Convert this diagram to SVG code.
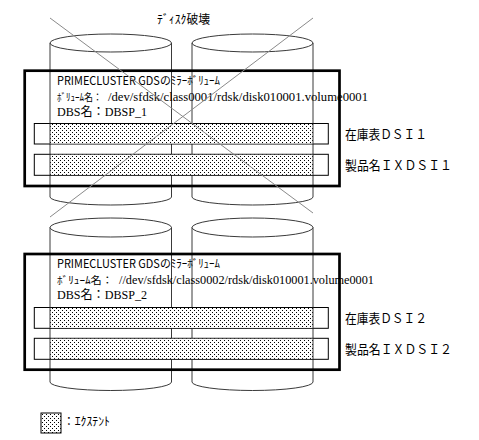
<svg xmlns="http://www.w3.org/2000/svg" width="479" height="440" viewBox="0 0 479 440">
<style>
.cyl{fill:none;stroke:#3a3a3a;stroke-width:1}
.box{fill:none;stroke:#000;stroke-width:2.7}
.bar{fill:#fff;stroke:#000;stroke-width:1}
.dot{fill:url(#dots);stroke:none}
.edge{stroke:#3a3a3a;stroke-width:1}
.cross{stroke:#8a8a8a;stroke-width:1;fill:none}
.g{font-family:"Noto Sans CJK JP","Noto Sans",sans-serif;font-size:12px;fill:#000}
.g1{font-family:"Noto Sans CJK JP","Noto Sans",sans-serif;font-size:11.5px;fill:#000}
.g2{font-family:"Noto Sans CJK JP","Noto Sans",sans-serif;font-size:10.5px;fill:#000}
.s{font-family:"Liberation Serif","Noto Sans CJK JP",serif;font-size:12.5px;fill:#000}
.p{font-family:"Liberation Serif","Noto Sans CJK JP",serif;font-size:12.5px;fill:#000}
.lbl{font-family:"Noto Sans CJK JP","Noto Sans",sans-serif;font-size:13px;fill:#000}
</style>
<defs>
<pattern id="dots" x="0" y="0" width="4" height="4" patternUnits="userSpaceOnUse">
<rect width="4" height="4" fill="#fff"/>
<rect x="0" y="0" width="1" height="1" fill="#000"/>
<rect x="2" y="2" width="1" height="1" fill="#000"/>
</pattern>
</defs>
<rect width="479" height="440" fill="#fff"/>

<text class="g" x="157" y="24" textLength="53" lengthAdjust="spacingAndGlyphs">ﾃﾞｨｽｸ破壊</text>

<g id="disks-top">
<path class="cyl" d="M50,43 A60.75,9 0 1,1 171.5,43 A60.75,9 0 1,1 50,43 Z M50,43 V197 A60.75,8 0 0,0 171.5,197 V43"/>
<path class="cyl" d="M192,43 A60.5,9 0 1,1 313,43 A60.5,9 0 1,1 192,43 Z M192,43 V197 A60.5,8 0 0,0 313,197 V43"/>
</g>
<g id="disks-bottom">
<path class="cyl" d="M50,227.5 A60.75,9.5 0 1,1 171.5,227.5 A60.75,9.5 0 1,1 50,227.5 Z M50,227.5 V382 A60.75,8.5 0 0,0 171.5,382 V227.5"/>
<path class="cyl" d="M192,227.5 A60.5,9.5 0 1,1 313,227.5 A60.5,9.5 0 1,1 192,227.5 Z M192,227.5 V382 A60.5,8.5 0 0,0 313,382 V227.5"/>
</g>

<g id="volume1">
<rect class="box" x="24.7" y="70.7" width="314.8" height="115.3"/>
<text class="g1" x="57" y="85" textLength="163" lengthAdjust="spacingAndGlyphs">PRIMECLUSTER GDSのﾐﾗｰﾎﾞﾘｭｰﾑ</text>
<text class="g2" x="57" y="100.5" textLength="45" lengthAdjust="spacingAndGlyphs">ﾎﾞﾘｭｰﾑ名：</text>
<text class="p" x="108" y="100.5" textLength="260" lengthAdjust="spacingAndGlyphs">/dev/sfdsk/class0001/rdsk/disk010001.volume0001</text>
<text class="s" x="57" y="116" textLength="90" lengthAdjust="spacingAndGlyphs">DBS名：DBSP_1</text>
</g>
<g id="extent1a">
<rect class="bar" x="34.3" y="123.5" width="294" height="20.5"/>
<rect class="dot" x="50" y="124" width="263" height="19.5"/>
<line class="edge" x1="50" y1="123.5" x2="50" y2="144"/>
<line class="edge" x1="313" y1="123.5" x2="313" y2="144"/>
<text class="lbl" x="345" y="139" textLength="82" lengthAdjust="spacingAndGlyphs">在庫表ＤＳＩ１</text>
</g>
<g id="extent1b">
<rect class="bar" x="34.3" y="154.3" width="294" height="21"/>
<rect class="dot" x="50" y="154.8" width="263" height="20"/>
<line class="edge" x1="50" y1="154.3" x2="50" y2="175.3"/>
<line class="edge" x1="313" y1="154.3" x2="313" y2="175.3"/>
<text class="lbl" x="345" y="170" textLength="107" lengthAdjust="spacingAndGlyphs">製品名ＩＸＤＳＩ１</text>
</g>

<g id="volume2">
<rect class="box" x="24.7" y="254" width="314.8" height="115.7"/>
<text class="g1" x="57" y="268" textLength="163" lengthAdjust="spacingAndGlyphs">PRIMECLUSTER GDSのﾐﾗｰﾎﾞﾘｭｰﾑ</text>
<text class="g2" x="57" y="283.8" textLength="56" lengthAdjust="spacingAndGlyphs">ﾎﾞﾘｭｰﾑ名：</text>
<text class="p" x="119" y="283.8" textLength="255" lengthAdjust="spacingAndGlyphs">//dev/sfdsk/class0002/rdsk/disk010001.volume0001</text>
<text class="s" x="57" y="299.4" textLength="90" lengthAdjust="spacingAndGlyphs">DBS名：DBSP_2</text>
</g>
<g id="extent2a">
<rect class="bar" x="34.3" y="307.5" width="294" height="20.8"/>
<rect class="dot" x="50" y="308" width="263" height="19.8"/>
<line class="edge" x1="50" y1="307.5" x2="50" y2="328.3"/>
<line class="edge" x1="313" y1="307.5" x2="313" y2="328.3"/>
<text class="lbl" x="345" y="323" textLength="82" lengthAdjust="spacingAndGlyphs">在庫表ＤＳＩ２</text>
</g>
<g id="extent2b">
<rect class="bar" x="34.3" y="338.3" width="294" height="21"/>
<rect class="dot" x="50" y="338.8" width="263" height="20"/>
<line class="edge" x1="50" y1="338.3" x2="50" y2="359.3"/>
<line class="edge" x1="313" y1="338.3" x2="313" y2="359.3"/>
<text class="lbl" x="345" y="354" textLength="107" lengthAdjust="spacingAndGlyphs">製品名ＩＸＤＳＩ２</text>
</g>

<g id="connectors">
<line class="cross" x1="50" y1="18" x2="313" y2="213"/>
<line class="cross" x1="313" y1="18" x2="50" y2="217"/>
</g>

<g id="legend">
<rect x="41" y="413" width="20" height="20" fill="url(#dots)" stroke="#000" stroke-width="1"/>
<text class="g" x="63" y="426" textLength="47" lengthAdjust="spacingAndGlyphs">：ｴｸｽﾃﾝﾄ</text>
</g>
</svg>
